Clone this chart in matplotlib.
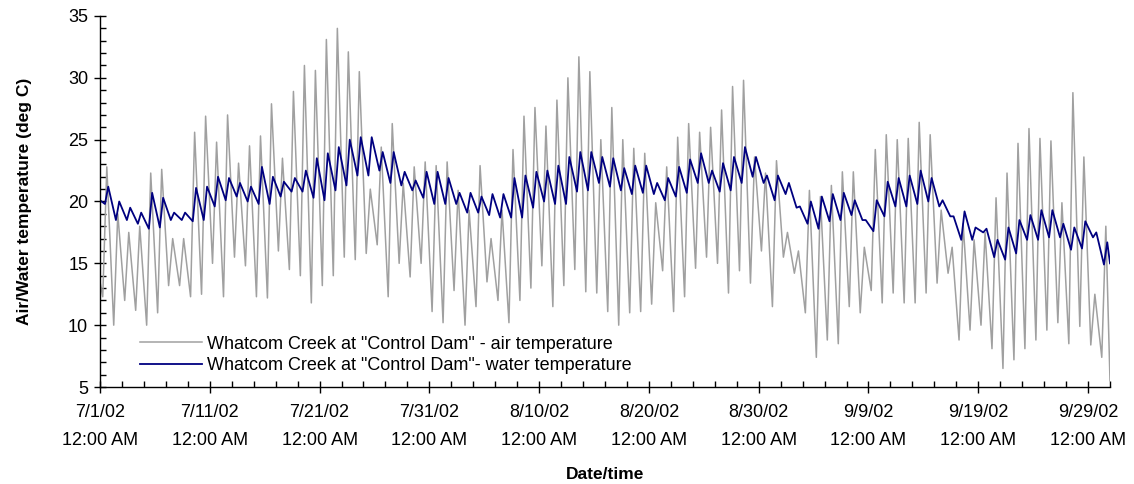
import numpy as np
import matplotlib
matplotlib.use("Agg")
import matplotlib.pyplot as plt
import matplotlib.dates as mdates
from matplotlib.ticker import FixedLocator, MultipleLocator

# ---- data (daily extremes, starting 7/1/02) ----
start_date = "2002-07-01"
end_date = "2002-10-01"

air_high = [22.8, 19.0, 17.5, 18.0, 22.3, 22.6, 17.0, 17.0, 25.6, 26.9,
            24.8, 27.0, 23.1, 24.5, 25.3, 27.9, 23.5, 28.9, 31.0, 30.6,
            33.1, 34.0, 32.1, 30.5, 21.0, 24.4, 26.3, 21.5, 22.8, 23.2,
            22.9, 23.2, 20.9, 19.3, 22.9, 17.0, 19.3, 24.2, 26.9, 27.6,
            26.1, 28.2, 30.0, 31.7, 30.5, 25.0, 27.6, 25.0, 24.3, 23.9,
            19.9, 22.8, 25.2, 26.3, 25.6, 26.0, 27.4, 29.3, 29.8, 23.6,
            22.3, 23.3, 17.5, 16.0, 20.9, 20.4, 21.3, 22.4, 22.4, 16.3,
            24.2, 25.4, 25.0, 25.1, 26.4, 25.4, 19.3, 16.3, 18.2, 16.9,
            17.5, 20.3, 22.3, 24.7, 25.9, 25.1, 24.9, 19.9, 28.8, 23.6,
            12.5, 18.0]
air_low = [12.3, 10.0, 12.0, 11.2, 10.0, 11.0, 13.2, 13.2, 12.3, 12.5,
           15.0, 12.3, 15.5, 14.8, 12.3, 12.2, 16.0, 14.5, 14.0, 11.8,
           13.2, 14.0, 15.5, 15.3, 15.8, 16.5, 12.3, 15.0, 13.9, 15.0,
           11.1, 10.2, 12.8, 10.0, 11.5, 13.5, 12.0, 10.2, 12.0, 13.0,
           14.8, 11.5, 13.2, 14.5, 12.7, 12.6, 11.1, 10.0, 11.0, 11.1,
           11.7, 14.4, 11.1, 12.3, 14.6, 15.5, 15.0, 12.6, 14.4, 13.4,
           16.0, 11.5, 15.5, 14.2, 11.0, 7.4, 8.8, 8.5, 11.5, 11.0,
           12.8, 11.8, 12.6, 11.8, 11.8, 12.6, 13.4, 14.2, 8.8, 9.6,
           10.0, 8.1, 6.5, 7.2, 8.1, 8.8, 9.6, 10.2, 8.5, 9.9,
           8.4, 7.4]
air_first, air_last = 13.5, 5.5

water_high = [21.2, 20.0, 19.5, 19.1, 20.7, 20.3, 19.1, 19.1, 21.1, 21.2,
              22.0, 21.9, 21.5, 21.2, 22.8, 22.0, 21.6, 21.9, 22.5, 23.5,
              23.9, 24.4, 25.0, 25.2, 25.2, 24.0, 24.0, 22.4, 21.7, 22.4,
              22.4, 21.9, 20.7, 20.7, 20.4, 20.6, 20.6, 21.9, 22.1, 22.4,
              22.5, 22.9, 23.6, 24.0, 24.0, 23.6, 23.5, 22.7, 22.9, 22.9,
              21.5, 21.9, 22.8, 23.4, 23.9, 22.5, 23.1, 23.6, 24.4, 23.6,
              22.1, 22.1, 21.5, 19.6, 20.0, 20.4, 20.6, 20.7, 20.1, 18.5,
              20.1, 21.6, 21.9, 22.1, 22.5, 21.9, 20.1, 18.8, 19.2, 17.9,
              17.8, 16.9, 17.9, 18.5, 18.9, 19.3, 19.3, 18.2, 17.9, 18.4,
              17.5, 16.7]
water_low = [19.8, 18.5, 18.5, 18.2, 17.8, 17.9, 18.5, 18.5, 18.4, 18.5,
             19.6, 20.1, 20.4, 20.0, 19.8, 19.8, 20.4, 20.8, 20.8, 20.3,
             20.1, 20.9, 21.3, 22.1, 22.1, 22.5, 21.5, 21.3, 20.9, 20.3,
             19.8, 19.8, 19.8, 19.1, 19.1, 18.9, 18.7, 18.7, 18.7, 19.5,
             20.0, 19.8, 19.8, 20.8, 20.9, 21.5, 21.2, 20.9, 20.6, 20.7,
             20.6, 20.1, 20.4, 20.7, 21.5, 21.5, 20.8, 20.9, 21.5, 22.0,
             21.5, 20.1, 20.6, 19.5, 18.2, 17.8, 18.4, 18.5, 18.9, 18.5,
             17.6, 18.8, 19.6, 19.6, 19.8, 20.0, 19.6, 18.8, 16.9, 16.9,
             17.5, 15.5, 15.3, 15.8, 16.9, 16.9, 17.1, 17.1, 16.1, 16.2,
             17.1, 14.9]
water_first, water_last = 20.1, 15.0

legend_labels = ['Whatcom Creek at "Control Dam" - air temperature',
                 'Whatcom Creek at "Control Dam"- water temperature']
y_label = "Air/Water temperature (deg C)"
x_label = "Date/time"

# ---- build time series from daily extremes ----
t0 = mdates.date2num(np.datetime64(start_date))
t1 = mdates.date2num(np.datetime64(end_date))
days = np.arange(len(air_high))

def series(lo, hi, first, last, t_lo, t_hi):
    xs = [t0]
    ys = [first]
    for d in days:
        xs += [t0 + d + t_lo, t0 + d + t_hi]
        ys += [lo[d], hi[d]]
    xs.append(t1)
    ys.append(last)
    return np.array(xs), np.array(ys)

ax_x, ax_y = series(air_low, air_high, air_first, air_last, 0.25, 0.62)
w_x, w_y = series(water_low, water_high, water_first, water_last, 0.45, 0.75)

# ---- figure ----
plt.rcParams['font.family'] = ['Liberation Sans', 'DejaVu Sans']
fig = plt.figure(figsize=(11.34, 4.84), dpi=100)
ax = fig.add_axes([100 / 1134, 1 - 387 / 484, 1010 / 1134, 371 / 484])

ax.plot(ax_x, ax_y, color="#a0a0a0", lw=1.1, label=legend_labels[0])
ax.plot(w_x, w_y, color="#000080", lw=1.3, label=legend_labels[1])

ax.set_xlim(t0, t1)
ax.set_ylim(5, 35)

major = [t0 + k for k in range(0, 91, 10)]
ax.xaxis.set_major_locator(FixedLocator(major))
ax.xaxis.set_minor_locator(FixedLocator([t0 + k for k in range(0, 93, 2)]))
ticklabels = [mdates.num2date(m).strftime("%-m/%-d/%y") + "\n12:00 AM" for m in major]
ax.set_xticklabels(ticklabels, linespacing=1.8)
ax.yaxis.set_major_locator(MultipleLocator(5))
ax.yaxis.set_minor_locator(MultipleLocator(1))

for s in ["top", "right"]:
    ax.spines[s].set_visible(False)
for s in ["left", "bottom"]:
    ax.spines[s].set_linewidth(1.0)

ax.tick_params(axis="both", which="major", direction="inout", length=9,
               width=1.0, labelsize=13)
ax.tick_params(axis="both", which="minor", direction="in", length=4, width=1.0)
ax.tick_params(axis="x", which="major", pad=8)
ax.tick_params(axis="y", which="major", pad=4)

ax.set_ylabel(y_label, fontsize=12.5, fontweight="bold", labelpad=26)
ax.set_xlabel(x_label, fontsize=12.5, fontweight="bold", labelpad=13)

ax.legend(loc="lower left", bbox_to_anchor=(0.04, 0.035), frameon=False,
          fontsize=13, handlelength=3.4, handletextpad=0.3, labelspacing=0.25,
          borderpad=0, borderaxespad=0)

fig.savefig("out.png", dpi=100)
